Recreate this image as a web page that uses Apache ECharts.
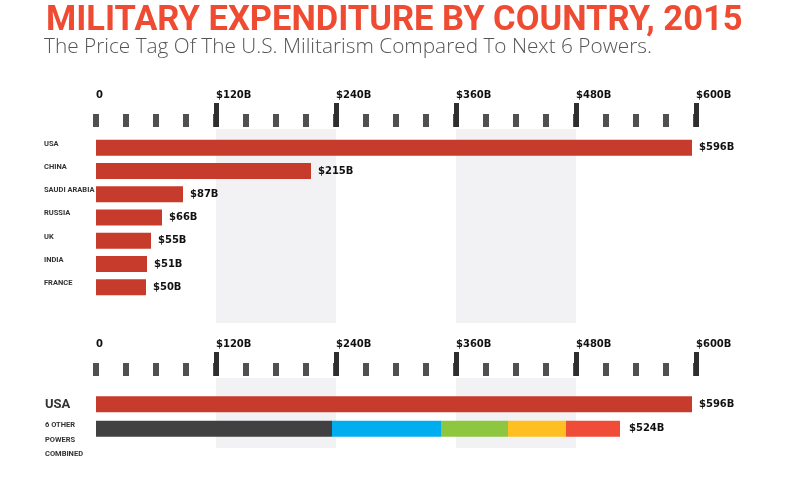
<!DOCTYPE html>
<html><head><meta charset="utf-8">
<script src="https://cdn.jsdelivr.net/npm/echarts@6/dist/echarts.min.js"></script>
<style>html,body{margin:0;padding:0;background:#fff}#c{width:789px;height:485px}</style>
</head><body><div id="c"></div>
<script>
const countries = ['USA', 'CHINA', 'SAUDI ARABIA', 'RUSSIA', 'UK', 'INDIA', 'FRANCE'];
const spending = [596, 215, 87, 66, 55, 51, 50];
const compareCategories = ['USA', '6 OTHER\nPOWERS\nCOMBINED'];
const usaTotal = 596;
const otherSegments = [236, 109, 67, 58, 54];
const segmentColors = ['#414141', '#00aeef', '#8dc63f', '#fdbf22', '#ef4d37'];
const tickLabels = ['0', '$120B', '$240B', '$360B', '$480B', '$600B'];
const axisMax = 600, majorStep = 120, minorStep = 30;

const RED = '#c63b2b';
const labelFont = { fontFamily: 'DejaVu Sans', fontWeight: 'bold', fontSize: 10, color: '#111' };
const narrow = 'Roboto, sans-serif';

const bands = [];
for (let v = majorStep; v + majorStep <= axisMax; v += 2 * majorStep) {
  bands.push([{ xAxis: v }, { xAxis: v + majorStep }]);
}

const L = 96, W = 600;
function panel(axisY, bandBottom, barTop, barH) {
  const gTop = axisY + 2;
  return [
    { left: L, width: W, top: gTop, height: bandBottom - gTop, outerBoundsMode: 'none' },
    { left: L + W * majorStep / axisMax, width: W - W * majorStep / axisMax, top: gTop, height: bandBottom - gTop, outerBoundsMode: 'none' },
    { left: L, width: W, top: barTop, height: barH, outerBoundsMode: 'none' }
  ];
}
const grids = [...panel(127, 323, 136, 163), ...panel(376, 448, 392, 49)];

function xAxesFor(g) {
  return [
    { gridIndex: g, type: 'value', position: 'top', min: 0, max: axisMax, interval: minorStep, offset: 2,
      axisLine: { show: false, onZero: false }, splitLine: { show: false },
      axisTick: { show: true, length: 13, lineStyle: { color: '#505050', width: 6 } },
      axisLabel: Object.assign({ show: true, margin: 27, align: 'left', hideOverlap: false,
        formatter: v => (v % majorStep === 0 ? tickLabels[v / majorStep] : '') }, labelFont) },
    { gridIndex: g + 1, type: 'value', position: 'top', min: majorStep, max: axisMax, interval: majorStep, offset: 2,
      axisLine: { show: false, onZero: false }, splitLine: { show: false },
      axisTick: { show: true, length: 24, lineStyle: { color: '#2e2e2e', width: 5 } },
      axisLabel: { show: false } },
    { gridIndex: g + 2, type: 'value', min: 0, max: axisMax, show: false,
      axisLine: { onZero: false } }
  ];
}
const xAxes = [...xAxesFor(0), ...xAxesFor(3)];
const hiddenY = g => ({ gridIndex: g, type: 'value', min: 0, max: 1, show: false, axisLine: { onZero: false } });
const yAxes = [
  hiddenY(0), hiddenY(1),
  { gridIndex: 2, type: 'category', data: countries, inverse: true,
    axisLine: { show: false, onZero: false }, axisTick: { show: false },
    axisLabel: { align: 'left', verticalAlign: 'bottom', lineHeight: 8, margin: 52, interval: 0, hideOverlap: false,
      fontFamily: narrow, fontWeight: 'bold', fontSize: 7.5, color: '#333' } },
  hiddenY(3), hiddenY(4),
  { gridIndex: 5, type: 'category', data: compareCategories, inverse: true,
    axisLine: { show: false, onZero: false }, axisTick: { show: false },
    axisLabel: { align: 'left', margin: 51, interval: 0, hideOverlap: false,
      formatter: (v, i) => i === 0 ? '{big|' + v + '}' : '{sp| }\n' + v.split('\n').map(s => '{small|' + s + '}').join('\n'),
      rich: {
        big: { fontFamily: narrow, fontWeight: 'bold', fontSize: 13, color: '#333' },
        small: { fontFamily: narrow, fontWeight: 'bold', fontSize: 7.5, lineHeight: 14.5, color: '#333' },
        sp: { fontSize: 8, lineHeight: 22 }
      } } }
];

const bandSeries = (xi) => ({ type: 'line', xAxisIndex: xi, yAxisIndex: xi, data: [], silent: true,
  markArea: { silent: true, itemStyle: { color: '#f2f2f4' }, data: bands } });

const series = [
  bandSeries(0), bandSeries(3),
  { type: 'bar', xAxisIndex: 2, yAxisIndex: 2, data: spending, barWidth: 16, itemStyle: { color: RED },
    label: Object.assign({ show: true, position: 'right', distance: 7, formatter: p => '$' + p.value + 'B' }, labelFont) },
  { type: 'bar', xAxisIndex: 5, yAxisIndex: 5, stack: 'cmp', data: [usaTotal, '-'], barWidth: 16, itemStyle: { color: RED },
    label: Object.assign({ show: true, position: 'right', distance: 7, formatter: p => '$' + p.value + 'B' }, labelFont) }
];
const otherTotal = otherSegments.reduce((a, b) => a + b, 0);
otherSegments.forEach((v, i) => {
  const s = { type: 'bar', xAxisIndex: 5, yAxisIndex: 5, stack: 'cmp', data: ['-', v], barWidth: 16,
    itemStyle: { color: segmentColors[i] } };
  if (i === otherSegments.length - 1) {
    s.label = Object.assign({ show: true, position: 'right', distance: 9, formatter: () => '$' + otherTotal + 'B' }, labelFont);
  }
  series.push(s);
});

const chart = echarts.init(document.getElementById('c'), null, { renderer: 'canvas' });
chart.setOption({
  animation: false,
  backgroundColor: '#fff',
  title: [
    { text: 'MILITARY EXPENDITURE BY COUNTRY, 2015', left: 46, top: 4, padding: 0,
      textStyle: { fontFamily: narrow, fontWeight: 'bold', fontSize: 34.5, color: '#ef4b32' } },
    { text: 'The Price Tag Of The U.S. Militarism Compared To Next 6 Powers.', left: 44, top: 37, padding: 0,
      textStyle: { fontFamily: 'Open Sans', fontWeight: 300, fontSize: 20.8, color: '#555' } }
  ],
  grid: grids,
  xAxis: xAxes,
  yAxis: yAxes,
  series: series
});
</script></body></html>
